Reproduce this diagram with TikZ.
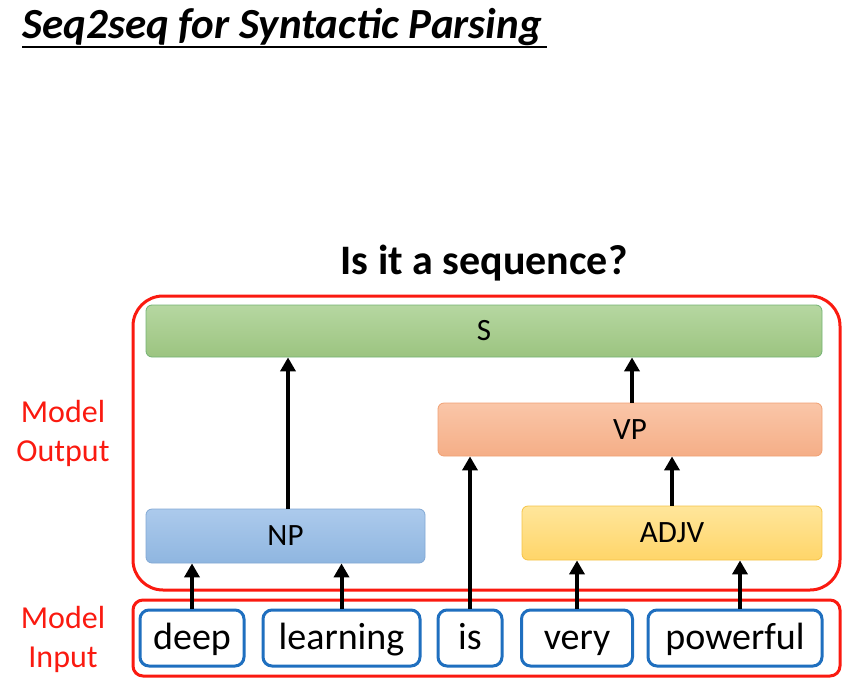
\documentclass[tikz,border=0pt]{standalone}
\usepackage{fontspec}
\setmainfont{Carlito}
\usetikzlibrary{arrows.meta}

\definecolor{redline}{HTML}{FA1A10}
\definecolor{wordblue}{HTML}{1F6FBF}
\tikzset{
  phrase/.style={rectangle,rounded corners=6pt,line width=0.8pt,inner sep=0pt,font=\fontsize{31}{36}\selectfont},
  wordbox/.style={rectangle,rounded corners=9pt,draw=wordblue,line width=3pt,fill=white,
    minimum height=56pt,inner sep=0pt,text height=30pt,text depth=8pt,font=\fontsize{38}{44}\selectfont},
  uparrow/.style={line width=4pt,-{Triangle[width=15pt,length=14pt]}},
  sidelabel/.style={align=center,text=redline,font=\fontsize{32}{39}\selectfont}
}

\begin{document}
\begin{tikzpicture}[x=1pt,y=-1pt]
\useasboundingbox (0,0) rectangle (860,683);
% title
\node[anchor=west,font=\fontsize{43}{48}\selectfont\bfseries\itshape] (title) at (19,27) {Seq2seq for Syntactic Parsing};
\draw[line width=1.3pt] (22,47) -- (547,47);
\node[font=\fontsize{42}{48}\selectfont\bfseries] (question) at (484,263) {Is it a sequence?};
% red frames
\draw[redline,line width=3pt,rounded corners=30pt] (133,296) rectangle (840,590);
\draw[redline,line width=3pt,rounded corners=10pt] (133,600) rectangle (840,676);
\node[sidelabel] (outlbl) at (63,433) {Model\\Output};
\node[sidelabel] (inlbl) at (63,639) {Model\\Input};
% phrases
\node[phrase,draw=green!45!black!55,top color={rgb,255:red,182;green,215;blue,161},bottom color={rgb,255:red,156;green,196;blue,128},
  minimum width=676pt,minimum height=52pt] (s) at (484,331) {S};
\node[phrase,draw={rgb,255:red,240;green,160;blue,115},top color={rgb,255:red,250;green,198;blue,168},bottom color={rgb,255:red,245;green,174;blue,135},
  minimum width=384pt,minimum height=53pt] (vp) at (630,429.5) {VP};
\node[phrase,draw={rgb,255:red,130;green,168;blue,212},top color={rgb,255:red,172;green,202;blue,236},bottom color={rgb,255:red,143;green,182;blue,224},
  minimum width=279pt,minimum height=54pt] (np) at (285.5,536) {NP};
\node[phrase,draw={rgb,255:red,245;green,195;blue,70},top color={rgb,255:red,255;green,230;blue,155},bottom color={rgb,255:red,255;green,213;blue,105},
  minimum width=300pt,minimum height=54pt] (adjv) at (672,533) {ADJV};
% words
\node[wordbox,minimum width=104pt] (deep) at (192,638) {deep};
\node[wordbox,minimum width=157pt] (learning) at (341.5,638) {learning};
\node[wordbox,minimum width=64pt] (is) at (470,638) {is};
\node[wordbox,minimum width=111pt] (very) at (577,638) {very};
\node[wordbox,minimum width=174pt] (powerful) at (735,638) {powerful};
% arrows
\draw[uparrow] (deep.north) -- (deep.north |- np.south);
\draw[uparrow] (learning.north) -- (learning.north |- np.south);
\draw[uparrow] (is.north) -- (is.north |- vp.south);
\draw[uparrow] (very.north) -- (very.north |- adjv.south);
\draw[uparrow] ([xshift=5pt]powerful.north) -- ([xshift=5pt]powerful.north |- adjv.south);
\draw[uparrow] ([xshift=2.5pt]np.north) -- ([xshift=2.5pt]np.north |- s.south);
\draw[uparrow] (adjv.north) -- (adjv.north |- vp.south);
\draw[uparrow] ([xshift=2pt]vp.north) -- ([xshift=2pt]vp.north |- s.south);
\end{tikzpicture}
\end{document}
